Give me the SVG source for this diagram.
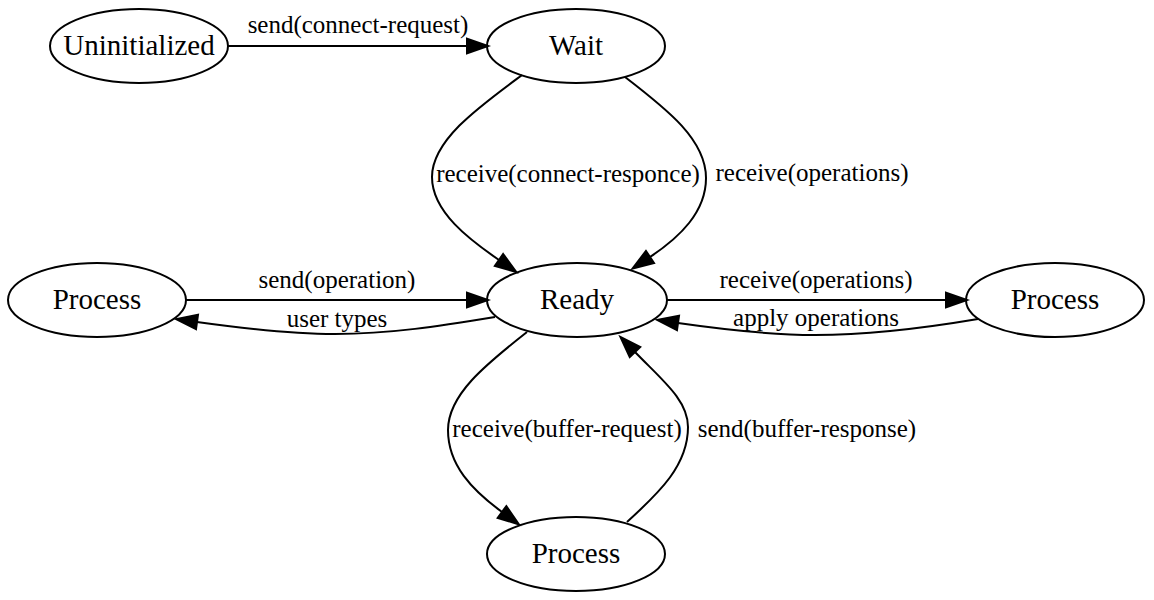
<svg xmlns="http://www.w3.org/2000/svg" width="1154" height="600" viewBox="0 0 1154 600">
<style>
.node ellipse{fill:none;stroke:#000;stroke-width:2}
.node text{font-size:29px;text-anchor:middle;fill:#000}
.edge path{fill:none;stroke:#000;stroke-width:2;marker-end:url(#arr)}
.edge text{font-size:25px;text-anchor:middle;fill:#000}
</style>
<defs>
<marker id="arr" markerUnits="userSpaceOnUse" markerWidth="26" markerHeight="20" viewBox="-2 -9 26 18" refX="0" refY="0" orient="auto" overflow="visible">
<path d="M0,-7.3 L21,0 L0,7.3 Z" fill="#000" stroke="#000" stroke-width="2"/>
</marker>
</defs>
<rect width="1154" height="600" fill="#fff"/>
<g font-family="Liberation Serif, Times New Roman, Times, DejaVu Serif, serif">
<g id="connectors">
<g class="edge" id="e1"><path d="M228,46 L467,46"/><text x="358" y="33">send(connect-request)</text></g>
<g class="edge" id="e2"><path d="M522,75 C480,106 432,140 432,177 C432,212 470,240 499,260"/><text x="568" y="182">receive(connect-responce)</text></g>
<g class="edge" id="e3"><path d="M625,77 C668,110 706,140 706,178 C706,212 680,237 650,257"/><text x="812" y="181">receive(operations)</text></g>
<g class="edge" id="e4"><path d="M186,300 L467,300"/><text x="337" y="288">send(operation)</text></g>
<g class="edge" id="e5"><path d="M495,317 C440,326 390,334 335,334 C290,334 240,328 197,322"/><text x="337" y="327">user types</text></g>
<g class="edge" id="e6"><path d="M667,300 L946,300"/><text x="816" y="288">receive(operations)</text></g>
<g class="edge" id="e7"><path d="M978,319 C925,328 870,335 815,335 C770,335 720,329 678,323"/><text x="816" y="326">apply operations</text></g>
<g class="edge" id="e8"><path d="M527,332 C485,365 448,395 448,430 C448,465 472,490 502,512"/><text x="567" y="437">receive(buffer-request)</text></g>
<g class="edge" id="e9"><path d="M627,522 C660,492 688,465 688,427 C688,400 662,380 635,352"/><text x="807" y="437">send(buffer-response)</text></g>
</g>
<g class="node" id="uninitialized"><ellipse cx="139" cy="46" rx="89" ry="37"/><text x="139" y="55">Uninitialized</text></g>
<g class="node" id="wait"><ellipse cx="576" cy="46" rx="89" ry="37"/><text x="576" y="55">Wait</text></g>
<g class="node" id="ready"><ellipse cx="577" cy="300" rx="90" ry="37"/><text x="577" y="309">Ready</text></g>
<g class="node" id="process_left"><ellipse cx="97" cy="300" rx="89" ry="37"/><text x="97" y="309">Process</text></g>
<g class="node" id="process_right"><ellipse cx="1055" cy="300" rx="89" ry="37"/><text x="1055" y="309">Process</text></g>
<g class="node" id="process_bottom"><ellipse cx="576" cy="554" rx="89" ry="37"/><text x="576" y="563">Process</text></g>
</g>
</svg>
